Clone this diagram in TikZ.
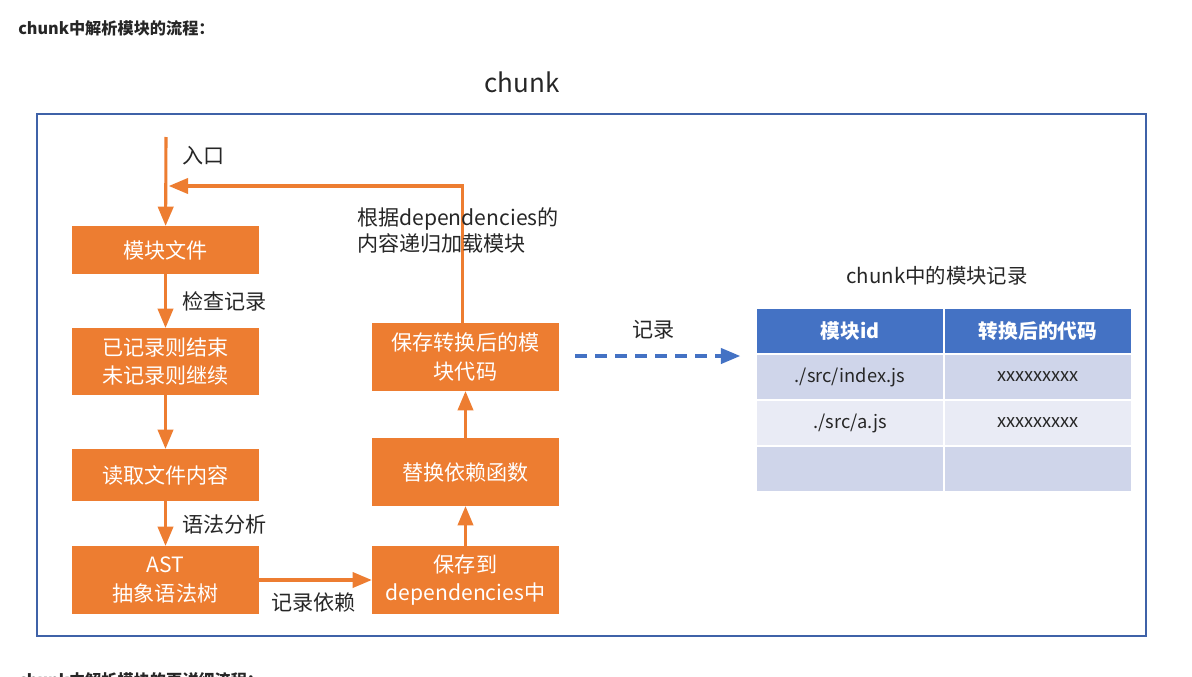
\documentclass[tikz,border=0pt]{standalone}
\usepackage{fontspec}
\setmainfont{Noto Sans CJK SC}
\usepackage{xcolor}
\usepackage{tikz}
\usetikzlibrary{arrows,positioning,calc}

\definecolor{orng}{HTML}{ED7D31}
\definecolor{frameblue}{HTML}{3F62A8}
\definecolor{hdrblue}{HTML}{4472C4}
\definecolor{rowdark}{HTML}{CFD5EA}
\definecolor{rowlight}{HTML}{E9EBF5}
\definecolor{txtgray}{HTML}{262626}

\begin{document}
\begin{tikzpicture}[x=0.025cm, y=-0.025cm,
    flow/.style={fill=orng, text=white, minimum width=4.68cm, align=center, inner sep=0pt, font=\fontsize{15}{20}\selectfont},
    lbl/.style={anchor=west, inner sep=0pt, align=left, text=txtgray, font=\fontsize{15}{18.5}\selectfont},
    cell/.style={draw=white, line width=1pt, minimum width=4.7cm, minimum height=1.15cm, text=txtgray, font=\fontsize{13}{15}\selectfont},
    head/.style={cell, fill=hdrblue, text=white, font=\bfseries\fontsize{14}{15}\selectfont},
    arrow/.style={->, line width=2.2pt, draw=orng, >=triangle 45},
    record/.style={->, line width=2.2pt, draw=hdrblue, dash pattern=on 0.3cm off 0.2cm, >=triangle 45}
]
\useasboundingbox (0,0) rectangle (1192,677);

% page text
\node[anchor=west, inner sep=0pt, text=txtgray, font=\bfseries\fontsize{11.5}{14}\selectfont] (pagehead) at (18,28) {chunk中解析模块的流程：};
\node[anchor=west, inner sep=0pt, text=txtgray, font=\bfseries\fontsize{11.5}{14}\selectfont] (pagenext) at (18,680) {chunk中解析模块的更详细流程：};

% chunk frame
\node[font=\fontsize{18.5}{22}\selectfont, text=txtgray] (chunktitle) at (522,82) {chunk};
\draw[frameblue, line width=1.6pt] (37,114) rectangle (1146,636);

% left column
\node[flow, minimum height=1.2cm] (modfile) at (165.5,250) {模块文件};
\node[flow, minimum height=1.675cm] (check) at (165.5,361.5) {已记录则结束\\未记录则继续};
\node[flow, minimum height=1.3cm] (read) at (165.5,475) {读取文件内容};
\node[flow, minimum height=1.7cm] (ast) at (165.5,580) {AST\\抽象语法树};

% right column
\node[flow, minimum height=1.7cm] (deps) at (465.5,580) {保存到\\dependencies中};
\node[flow, minimum height=1.7cm] (replace) at (465.5,472) {替换依赖函数};
\node[flow, minimum height=1.7cm] (save) at (465.5,357) {保存转换后的模\\块代码};

\coordinate (entry) at (166,137);
\coordinate (loopend) at (169,186);

\draw[arrow] (entry) -- (modfile);
\draw[arrow] (modfile) -- (check);
\draw[arrow] (check) -- (read);
\draw[arrow] (read) -- (ast);
\draw[arrow] (ast.east |- 0,580) -- (deps.west |- 0,580);
\draw[arrow] (deps) -- (replace);
\draw[arrow] (replace) -- (save);
\draw[arrow] ([xshift=-0.08cm]save.north) |- (loopend);

\node[lbl] (entrylbl) at (182,156) {入口};
\node[lbl] (checklbl) at (182,301) {检查记录};
\node[lbl] (parselbl) at (182,525) {语法分析};
\node[lbl] (deplbl) at (271,603) {记录依赖};
\node[lbl] (looplbl) at (357,230) {根据dependencies的\\内容递归加载模块};

% record into table
\coordinate (recfrom) at (575,356);
\coordinate (recto) at (740,356);
\draw[record] (recfrom) -- (recto);
\node[lbl] (reclbl) at (632,330) {记录};

% module table
\node[font=\fontsize{14.5}{17}\selectfont, text=txtgray] (tabtitle) at (937,276) {chunk中的模块记录};
\node[head] (hid) at (850,331) {模块id};
\node[head] (hcode) at (1038,331) {转换后的代码};
\node[cell, fill=rowdark] (idx) at (850,377) {./src/index.js};
\node[cell, fill=rowdark] (idxcode) at (1038,377) {xxxxxxxxx};
\node[cell, fill=rowlight] (ajs) at (850,423) {./src/a.js};
\node[cell, fill=rowlight] (ajscode) at (1038,423) {xxxxxxxxx};
\node[cell, fill=rowdark] (blank) at (850,469) {};
\node[cell, fill=rowdark] (blankcode) at (1038,469) {};

\end{tikzpicture}
\end{document}
